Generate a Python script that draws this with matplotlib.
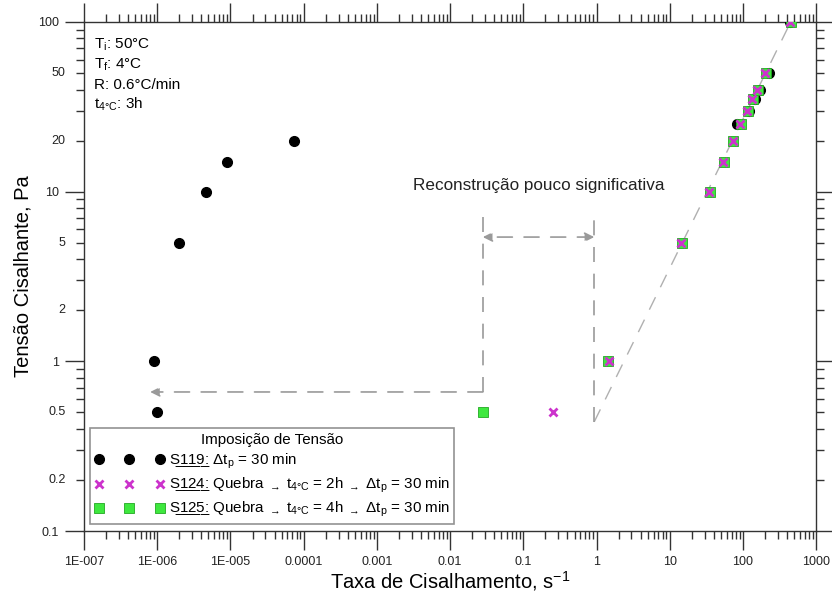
import matplotlib.pyplot as plt
from matplotlib.ticker import FixedLocator, NullFormatter, LogLocator

plt.rcParams['font.family'] = ['Liberation Sans', 'DejaVu Sans']
plt.rcParams['mathtext.fontset'] = 'custom'
plt.rcParams['mathtext.rm'] = 'Liberation Sans'
plt.rcParams['mathtext.it'] = 'Liberation Sans'
plt.rcParams['mathtext.bf'] = 'Liberation Sans:bold'

# S119 - black circles
s119_rate = [8.9e-7, 1.0e-6, 1.97e-6, 4.6e-6, 9.1e-6, 7.4e-5,
             83, 122, 147, 172, 227, 441]
s119_stress = [1, 0.5, 5, 10, 15, 20, 25, 30, 35, 40, 50, 100]

# S124 - magenta crosses
s124_rate = [0.255, 1.5, 14.3, 34.5, 54, 73, 92, 114, 134, 155, 201, 441]
s124_stress = [0.5, 1, 5, 10, 15, 20, 25, 30, 35, 40, 50, 100]

# S125 - green squares
s125_rate = [0.028, 1.45, 14.5, 35, 55, 74, 94, 116, 136, 158, 205, 448]
s125_stress = [0.5, 1, 5, 10, 15, 20, 25, 30, 35, 40, 50, 100]

x_ticks = [1e-7, 1e-6, 1e-5, 1e-4, 1e-3, 1e-2, 1e-1, 1, 10, 100, 1000]
x_labels = ['1E-007', '1E-006', '1E-005', '0.0001', '0.001', '0.01', '0.1',
            '1', '10', '100', '1000']
y_major = [0.1, 1, 10, 100]
y_major_labels = ['0.1', '1', '10', '100']
y_extra = [0.2, 0.5, 2, 5, 20, 50]
y_extra_labels = ['0.2', '0.5', '2', '5', '20', '50']

# annotation values
recon_left, recon_right = 0.028, 0.93
recon_top, recon_arrow_y = 7.5, 5.4
back_arrow_y, back_arrow_x = 0.66, 8e-7
fit_x = [0.93, 500]
fit_y = [0.44, 110]

fig = plt.figure(figsize=(8.32, 5.94), dpi=100)
ax = fig.add_axes([0.101, 0.106, 0.880, 0.857])
ax.set_xscale('log')
ax.set_yscale('log')
ax.set_xlim(1e-7, 1000)
ax.set_ylim(0.1, 100)

grey = '#9a9a9a'
dash = (0, (9, 7))

# fitted line
ax.plot(fit_x, fit_y, color='#b0b0b0', lw=1.0, linestyle=(0, (10, 8)), zorder=1,
        clip_on=True)

# reconstruction annotation
ax.plot([recon_left, recon_left], [back_arrow_y, recon_top], color=grey, lw=1.2,
        linestyle=dash, zorder=1)
ax.plot([recon_right, recon_right], [0.44, recon_top], color=grey, lw=1.2,
        linestyle=dash, zorder=1)
ax.annotate('', xy=(back_arrow_x, back_arrow_y), xytext=(recon_left, back_arrow_y),
            arrowprops=dict(arrowstyle='-|>', color=grey, lw=1.2, linestyle=dash,
                            shrinkA=0, shrinkB=0, mutation_scale=14))
ax.annotate('', xy=(recon_left, recon_arrow_y), xytext=(recon_right, recon_arrow_y),
            arrowprops=dict(arrowstyle='<|-|>', color=grey, lw=1.2, linestyle=dash,
                            shrinkA=0, shrinkB=0, mutation_scale=14))
ax.text(0.16, 10.9, 'Reconstrução pouco significativa', fontsize=12.3,
        ha='center', va='center', color='#222222')

p119, = ax.plot(s119_rate, s119_stress, 'o', color='black', ms=7, ls='none', zorder=3)
p125, = ax.plot(s125_rate, s125_stress, 's', color='#3ee83e', mec='#22a822', mew=0.6,
                ms=6.5, ls='none', zorder=4)
p124, = ax.plot(s124_rate, s124_stress, 'x', color='#cc33cc', ms=6, mew=2, ls='none',
                zorder=5)

arrow = '$_{\\rightarrow}$'
labels = [
    'S̲1̲1̲9̲: $\\Delta$t$_\\mathrm{p}$ = 30 min',
    'S̲1̲2̲4̲: Quebra ' + arrow + ' t$_\\mathrm{4°C}$ = 2h ' + arrow
    + ' $\\Delta$t$_\\mathrm{p}$ = 30 min',
    'S̲1̲2̲5̲: Quebra ' + arrow + ' t$_\\mathrm{4°C}$ = 4h ' + arrow
    + ' $\\Delta$t$_\\mathrm{p}$ = 30 min',
]
leg = ax.legend(handles=[p119, p124, p125], labels=labels,
                title='Imposição de Tensão', loc='lower left',
                bbox_to_anchor=(0.004, 0.008), numpoints=3, handlelength=4.6,
                handletextpad=0.3, fontsize=10.9, title_fontsize=10.9,
                frameon=True, fancybox=False, borderpad=0.3, labelspacing=0.32,
                borderaxespad=0.2)
leg.get_frame().set_edgecolor('#777777')
leg.get_frame().set_linewidth(1.2)

# ticks
ax.xaxis.set_major_locator(FixedLocator(x_ticks))
ax.xaxis.set_minor_locator(LogLocator(base=10, subs=range(2, 10), numticks=100))
ax.xaxis.set_minor_formatter(NullFormatter())
ax.set_xticklabels(x_labels)
ax.yaxis.set_major_locator(FixedLocator(y_major))
ax.yaxis.set_minor_locator(LogLocator(base=10, subs=range(2, 10), numticks=100))
ax.yaxis.set_minor_formatter(NullFormatter())
ax.set_yticklabels(y_major_labels)
for v, s in zip(y_extra, y_extra_labels):
    ax.text(-0.025, v, s, transform=ax.get_yaxis_transform(), ha='right',
            va='center', fontsize=9, color='#222222')
ax.tick_params(which='major', direction='out', length=14, width=1, labelsize=9,
               top=True, right=True, pad=4, colors='#333333', labelcolor='#222222')
ax.tick_params(which='minor', direction='out', length=6, width=1,
               top=True, right=True, colors='#333333')
ax.tick_params(axis='y', which='major', pad=4)
for s in ax.spines.values():
    s.set_linewidth(1.0)
    s.set_color('#333333')

ax.set_xlabel('Taxa de Cisalhamento, s$^{-1}$', fontsize=14.5, labelpad=1)
ax.set_ylabel('Tensão Cisalhante, Pa', fontsize=14.5, labelpad=4)

# conditions text
info = ['T$_\\mathrm{i}$: 50°C', 'T$_\\mathrm{f}$: 4°C', 'R: 0.6°C/min',
        't$_\\mathrm{4°C}$: 3h']
for i, t in enumerate(info):
    ax.text(0.014, 0.955 - i * 0.039, t, transform=ax.transAxes, fontsize=11,
            va='center', ha='left')

fig.savefig('out.png', dpi=100)
